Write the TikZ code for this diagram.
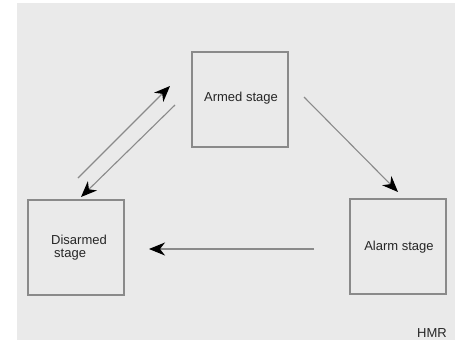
\documentclass[tikz,border=0pt]{standalone}
\usepackage{fontspec}
\setmainfont{Liberation Sans}
\usetikzlibrary{arrows.meta}
\definecolor{bg}{HTML}{EAEAEA}
\definecolor{ln}{HTML}{8A8A8A}
\begin{document}
\begin{tikzpicture}[x=1pt,y=-1pt,
  stagebox/.style={draw=ln,line width=1.3pt,minimum width=96pt,minimum height=95pt,inner sep=0pt},
  lbl/.style={font=\fontsize{13}{15}\selectfont,text=black!85},
  conn/.style={draw=ln,line width=1.1pt,-{Stealth[length=16pt,width=13pt,inset=5pt,black]}}]
\useasboundingbox (0,0) rectangle (455,340);
\fill[white] (0,0) rectangle (455,340);
\fill[bg] (17,3) rectangle (455,340);
\node[stagebox] (armed) at (240,99.5) {};
\node[stagebox] (disarmed) at (76,247.5) {};
\node[stagebox] (alarm) at (398,246.5) {};
\node[lbl] (armedt) at (241,98) {Armed stage};
\node[lbl,align=left] (disarmedt) at (79,248) {Disarmed\\[-2pt]\hspace*{3pt}stage};
\node[lbl] (alarmt) at (399,247) {Alarm stage};
\coordinate (u1) at (78,178);
\coordinate (u2) at (170,86);
\coordinate (d1) at (175,105);
\coordinate (d2) at (81,197);
\coordinate (r1) at (304,97);
\coordinate (r2) at (398,192);
\coordinate (h1) at (314,249);
\coordinate (h2) at (149,249);
\draw[conn] (u1) -- (u2);
\draw[conn] (d1) -- (d2);
\draw[conn] (r1) -- (r2);
\draw[conn] (h1) -- (h2);
\node[lbl,anchor=south east,inner sep=0pt] (hmr) at (447,338) {HMR};
\end{tikzpicture}
\end{document}
